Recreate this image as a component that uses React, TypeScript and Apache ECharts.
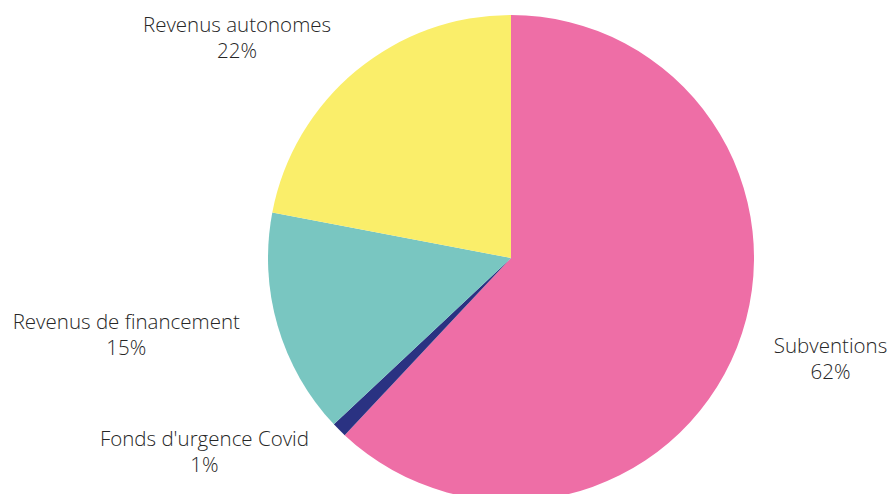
import React, { useEffect, useRef } from "react";
import * as echarts from "echarts";

const categories = ["Subventions", "Fonds d'urgence Covid", "Revenus de financement", "Revenus autonomes"];
const values = [62, 1, 15, 22];
const colors = ["#EE6EA6", "#2A3282", "#79C6C1", "#FAEE6A"];

export default function App() {
  const ref = useRef<HTMLDivElement>(null);
  useEffect(() => {
    document.body.style.margin = "0";
    const chart = echarts.init(ref.current!, undefined, { renderer: "svg" });
    chart.setOption({
      animation: false,
      backgroundColor: "#ffffff",
      series: [
        {
          type: "pie",
          center: [511, 258],
          radius: 243,
          startAngle: 90,
          clockwise: true,
          avoidLabelOverlap: false,
          data: categories.map((c, i) => ({
            name: c,
            value: values[i],
            itemStyle: { color: colors[i] },
            labelLine: i === 3 ? { length: 44, length2: 0 } : undefined,
            label: i === 3 ? { distanceToLabelLine: -3 } : undefined,
          })),
          itemStyle: { borderWidth: 0 },
          label: {
            show: true,
            position: "outside",
            formatter: "{b}\n{d}%",
            fontFamily: "Open Sans",
            fontSize: 20.5,
            fontWeight: 300,
            lineHeight: 26,
            color: "#262626",
          },
          labelLine: { show: false, length: 30, length2: 4 },
          labelLayout: (params: any) => {
            const r = params.labelRect;
            return {
              x: r.x + r.width / 2,
              y: r.y + r.height / 2,
              align: "center",
              verticalAlign: "middle",
            };
          },
        },
      ],
    });
    return () => chart.dispose();
  }, []);
  return <div ref={ref} style={{ width: 891, height: 494 }} />;
}
